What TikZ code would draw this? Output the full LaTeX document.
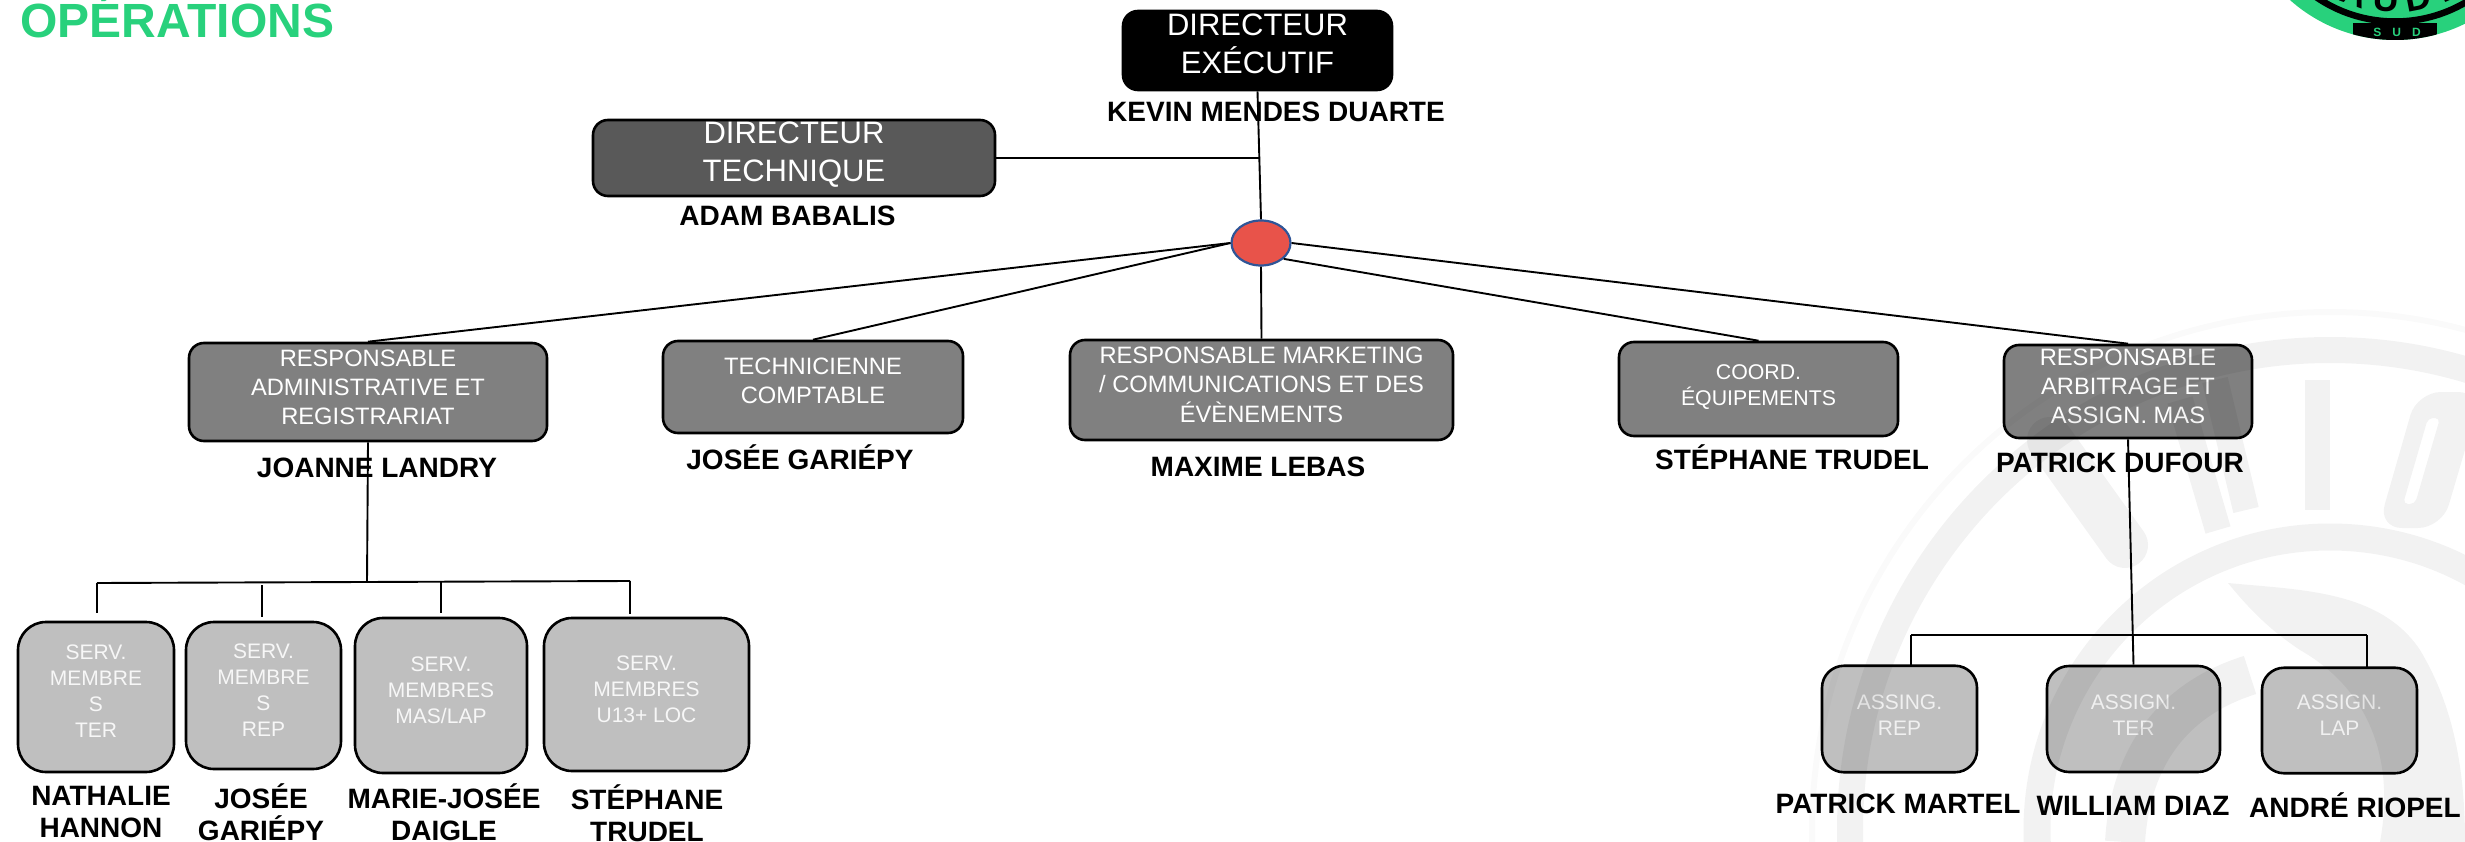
\documentclass[tikz,border=0pt]{standalone}
\usepackage{fontspec}
\setmainfont{Liberation Sans}
\usetikzlibrary{shapes.geometric}
\definecolor{opsgreen}{HTML}{28D17C}
\definecolor{hubred}{HTML}{E8534A}
\definecolor{hubblue}{HTML}{2F5597}
\newcommand{\boxlines}[2]{\raisebox{#1}[0pt][0pt]{\begin{tabular}{@{}c@{}}#2\end{tabular}}}
\tikzset{
  orgbox/.style={draw=black,line width=2.6pt,rounded corners=15pt,text=white,inner sep=0pt},
  topbox/.style={orgbox,font=\fontsize{31}{38}\selectfont},
  midbox/.style={orgbox,fill=black!50,font=\fontsize{23.7}{29}\selectfont},
  lowbox/.style={orgbox,rounded corners=28pt,fill=black!25,text=white!97!black,font=\fontsize{21}{26}\selectfont},
  assignbox/.style={orgbox,rounded corners=22pt,fill=black!25,text=white!94!black,font=\fontsize{21}{26}\selectfont},
  person/.style={anchor=base,font=\fontsize{28}{32}\selectfont\bfseries,inner sep=0pt},
  person2/.style={font=\fontsize{28}{32}\selectfont\bfseries,inner sep=0pt,align=center},
  link/.style={line width=1.9pt,draw=black},
  mark3/.style={fill=black,opacity=0.05},
  markline/.style={draw=black,opacity=0.05}
}
\begin{document}
\begin{tikzpicture}[x=1pt,y=-1pt]
    \useasboundingbox (0,0) rectangle (2465,842);
    \node[anchor=base west,inner sep=0pt,text=opsgreen,font=\fontsize{48}{50}\selectfont\bfseries] (title) at (20,38) {OPÉRATIONS};
    % top of the chart
    \node[topbox,fill=black,minimum width=269pt,minimum height=79pt] (director) at (1257.5,50.5) {\boxlines{-2.5pt}{DIRECTEUR\\EXÉCUTIF}};
    \node[topbox,fill=black!65,minimum width=402pt,minimum height=76pt] (technical) at (794,158) {\boxlines{-3.5pt}{DIRECTEUR\\TECHNIQUE}};
    \node[ellipse,draw=hubblue,line width=2.2pt,fill=hubred,minimum width=59pt,minimum height=45pt,inner sep=0pt] (hub) at (1261,243) {};
    \coordinate (techjoin) at (1260,158);
    \node[person] (kevin) at (1276,122) {KEVIN MENDES DUARTE};
    \node[person] (adam) at (787.5,226) {ADAM BABALIS};
    % managers
    \node[midbox,minimum width=358pt,minimum height=98pt] (admin) at (368,392) {\boxlines{-4pt}{RESPONSABLE\\ADMINISTRATIVE ET\\REGISTRARIAT}};
    \node[midbox,minimum width=300pt,minimum height=92pt] (compta) at (813,387) {\boxlines{-2pt}{TECHNICIENNE\\COMPTABLE}};
    \node[midbox,minimum width=383pt,minimum height=100pt] (marketing) at (1261.5,390) {\boxlines{-3.5pt}{RESPONSABLE MARKETING\\/ COMMUNICATIONS ET DES\\ÉVÈNEMENTS}};
    \node[midbox,font=\fontsize{21.3}{25}\selectfont,minimum width=279pt,minimum height=94pt] (coord) at (1758.5,389) {\boxlines{-3.5pt}{COORD.\\ÉQUIPEMENTS}};
    \node[midbox,minimum width=248pt,minimum height=93pt] (arbitrage) at (2128,391.5) {\boxlines{-3.5pt}{RESPONSABLE\\ARBITRAGE ET\\ASSIGN. MAS}};
    \node[person] (joanne) at (377,477) {JOANNE LANDRY};
    \node[person] (josee) at (800,469) {JOSÉE GARIÉPY};
    \node[person] (maxime) at (1258,476) {MAXIME LEBAS};
    \node[person] (stephane) at (1792,469) {STÉPHANE TRUDEL};
    \node[person] (dufour) at (2120,472) {PATRICK DUFOUR};
    % members
    \node[lowbox,minimum width=156pt,minimum height=150pt] (servter) at (96,697) {\boxlines{-1.5pt}{SERV.\\MEMBRE\\S\\TER}};
    \node[lowbox,minimum width=155pt,minimum height=147pt] (servrep) at (263.5,695.5) {\boxlines{-2pt}{SERV.\\MEMBRE\\S\\REP}};
    \node[lowbox,minimum width=172pt,minimum height=155pt] (servmas) at (441,695.5) {\boxlines{-1.5pt}{SERV.\\MEMBRES\\MAS/LAP}};
    \node[lowbox,minimum width=205pt,minimum height=153pt] (servloc) at (646.5,694.5) {\boxlines{-1.5pt}{SERV.\\MEMBRES\\U13+ LOC}};
    \node[person2] (nathalie) at (101,812) {NATHALIE\\HANNON};
    \node[person2] (gariepy) at (261,812) {JOSÉE\\GARIÉPY};
    \node[person2] (daigle) at (444,812) {MARIE-JOSÉE\\DAIGLE};
    \node[person2] (trudel) at (647,813) {STÉPHANE\\TRUDEL};
    % assignments
    \node[assignbox,minimum width=155pt,minimum height=106.5pt] (assrep) at (1899.5,719) {\boxlines{-3pt}{ASSING.\\REP}};
    \node[assignbox,minimum width=173pt,minimum height=106pt] (asster) at (2133.5,719) {\boxlines{-3pt}{ASSIGN.\\TER}};
    \node[assignbox,minimum width=155pt,minimum height=105.5pt] (asslap) at (2339.5,720.5) {\boxlines{-2pt}{ASSIGN.\\LAP}};
    \node[person] (martel) at (1898,813) {PATRICK MARTEL};
    \node[person] (diaz) at (2133,815) {WILLIAM DIAZ};
    \node[person] (riopel) at (2355,817) {ANDRÉ RIOPEL};
    % links
    \coordinate (adminbar) at (367,582);
    \coordinate (barleft) at (97,583);
    \coordinate (barright) at (630,581);
    \coordinate (tickter) at (97,613);
    \coordinate (barrep) at (262,585);
    \coordinate (tickrep) at (262,617);
    \coordinate (barmas) at (441,582);
    \coordinate (tickmas) at (441,613);
    \coordinate (tickloc) at (630,614);
    \coordinate (arbileft) at (1911,635);
    \coordinate (arbiright) at (2367,635);
    \coordinate (tickarep) at (1911,665);
    \coordinate (tickalap) at (2367,667);
    \draw[link] (director.south) -- (hub.north);
    \draw[link] (technical.east) -- (techjoin);
    \draw[link] (hub.west) -- (admin.north);
    \draw[link] (hub.west) -- (compta.north);
    \draw[link] (hub.south) -- (marketing.north);
    \draw[link] (hub.-35) -- (coord.north);
    \draw[link] (hub.east) -- (arbitrage.north);
    \draw[link] (admin.south) -- (adminbar);
    \draw[link] (barleft) -- (barright);
    \draw[link] (barleft) -- (tickter);
    \draw[link] (barrep) -- (tickrep);
    \draw[link] (barmas) -- (tickmas);
    \draw[link] (barright) -- (tickloc);
    \draw[link] (arbitrage.south) -- (asster.north);
    \draw[link] (arbileft) -- (arbiright);
    \draw[link] (arbileft) -- (tickarep);
    \draw[link] (arbiright) -- (tickalap);
    % crest, top right
    \begin{scope}
        \clip (0,0) rectangle (2465,842);
        \fill[opsgreen] (2395,-118) circle (158);
        \draw[black,line width=6.5pt] (2395,-118) circle (139.5);
        \begin{scope}
            \clip (2395,-118) circle (158);
            \fill[black] (2353,23) rectangle (2437,42);
        \end{scope}
        \node[text=opsgreen,font=\fontsize{12}{12}\selectfont\bfseries] (sud) at (2397,32) {S\hspace{11pt}U\hspace{11pt}D};
        \begin{scope}[shift={(2395,-118)}]
            \foreach \letter/\ang in {A/110,U/94,D/79,I/66} {
                \node[rotate=90-\ang,font=\fontsize{36}{36}\selectfont\bfseries,inner sep=0pt] (crest\letter) at (\ang:118) {\letter};
            }
        \end{scope}
        % faded emblem
        \draw[markline,line width=26pt] (2330,830) circle (480);
        \draw[markline,line width=27pt] (2330,830) circle (293);
        \draw[draw=black,opacity=0.02,line width=6pt] (2330,830) circle (518);
        \fill[mark3] (2305,380) rectangle (2330,510);
        \fill[mark3,even odd rule,rounded corners=24pt] (2417,392) -- (2482,392) -- (2442,528) -- (2378,528) -- cycle
            [rounded corners=5pt] (2428,418) -- (2440,418) -- (2415,504) -- (2403,504) -- cycle;
        \draw[markline,line width=26pt] (2215,380) -- (2246,510);
        \draw[markline,line width=26pt] (2180,400) -- (2218,530);
        \draw[markline,line width=46pt,line cap=round] (2050,440) -- (2125,545);
        \fill[mark3] (2228,583) .. controls (2300,590) and (2380,590) .. (2420,650) .. controls (2450,700) and (2465,760) .. (2465,842) -- (2380,842) .. controls (2395,760) and (2370,690) .. (2300,650) .. controls (2270,630) and (2250,610) .. (2228,583) -- cycle;
        \draw[markline,line width=40pt] (2125,842) .. controls (2130,760) and (2170,700) .. (2250,675);
    \end{scope}
\end{tikzpicture}
\end{document}
